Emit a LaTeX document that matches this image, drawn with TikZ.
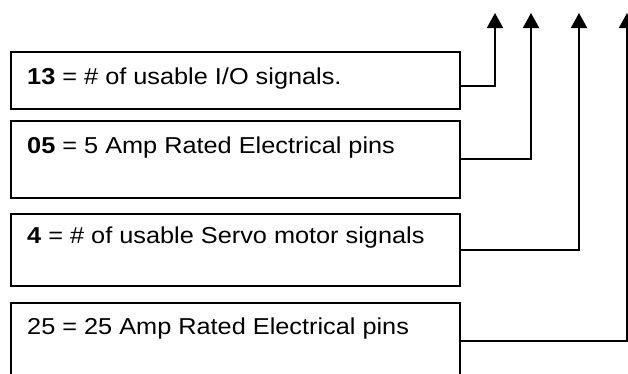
\documentclass[tikz,border=0pt]{standalone}
\usepackage{fontspec}
\setmainfont{Liberation Sans}[FakeStretch=1.1]
\usetikzlibrary{arrows.meta,positioning}
\begin{document}
\begin{tikzpicture}[x=1pt,y=-1pt,>={Triangle[width=16pt,length=15pt]}]
  \tikzset{box/.style={draw,line width=1.6pt,anchor=north west,minimum width=449pt,inner sep=0pt},
    txt/.style={anchor=base west,font=\fontsize{23}{27}\selectfont,inner sep=0pt},
    conn/.style={->,line width=2pt}}
  \useasboundingbox (0,0) rectangle (628,373);
  \node[box,minimum height=57pt] (b1) at (10,51) {};\node[box,minimum height=77pt] (b2) at (10,120) {};
  \node[box,minimum height=72pt] (b3) at (10,213) {};\node[box,minimum height=76pt] (b4) at (10,302) {};
  \node[txt] (t1) at ([xshift=17pt,yshift=-33pt]b1.north west) {\textbf{13} = \# of usable I/O signals.};
  \node[txt] (t2) at ([xshift=17pt,yshift=-33pt]b2.north west) {\textbf{05} = 5 Amp Rated Electrical pins};
  \node[txt] (t3) at ([xshift=17pt,yshift=-30pt]b3.north west) {\textbf{4} = \# of usable Servo motor signals};
  \node[txt] (t4) at ([xshift=17pt,yshift=-32pt]b4.north west) {25 = 25 Amp Rated Electrical pins};
  \coordinate (o1) at (495,13);\coordinate (o2) at (531,13);\coordinate (o3) at (579,13);\coordinate (o4) at (627,13);
  \draw[conn] ([yshift=-5.5pt]b1.east) -| (o1);
  \foreach \a/\b in {b2/o2,b3/o3,b4/o4}{\draw[conn] (\a.east) -| (\b);}
\end{tikzpicture}
\end{document}
